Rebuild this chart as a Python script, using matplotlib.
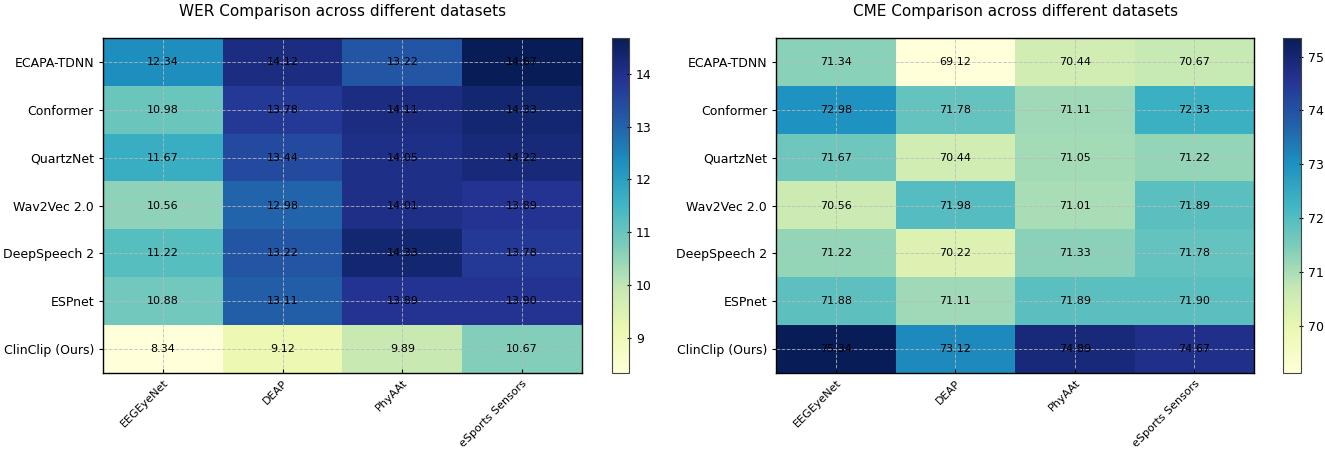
import numpy as np
import matplotlib.pyplot as plt

models = ['ECAPA-TDNN', 'Conformer', 'QuartzNet', 'Wav2Vec 2.0',
          'DeepSpeech 2', 'ESPnet', 'ClinClip (Ours)']
datasets = ['EEGEyeNet', 'DEAP', 'PhyAAt', 'eSports Sensors']

wer = [
    [12.34, 14.12, 13.22, 14.67],
    [10.98, 13.78, 14.11, 14.33],
    [11.67, 13.44, 14.05, 14.22],
    [10.56, 12.98, 14.01, 13.89],
    [11.22, 13.22, 14.33, 13.78],
    [10.88, 13.11, 13.89, 13.90],
    [8.34, 9.12, 9.89, 10.67],
]

cme = [
    [71.34, 69.12, 70.44, 70.67],
    [72.98, 71.78, 71.11, 72.33],
    [71.67, 70.44, 71.05, 71.22],
    [70.56, 71.98, 71.01, 71.89],
    [71.22, 70.22, 71.33, 71.78],
    [71.88, 71.11, 71.89, 71.90],
    [75.34, 73.12, 74.89, 74.67],
]

fig = plt.figure(figsize=(13.25, 4.5), dpi=100)

panels = [
    (wer, 'WER Comparison across different datasets',
     [0.0777, 0.171, 0.3615, 0.744], [0.462, 0.171, 0.0128, 0.744]),
    (cme, 'CME Comparison across different datasets',
     [0.5857, 0.171, 0.3608, 0.744], [0.9683, 0.171, 0.0136, 0.744]),
]

for data, title, pos, cpos in panels:
    arr = np.array(data)
    ax = fig.add_axes(pos)
    im = ax.imshow(arr, cmap='YlGnBu', aspect='auto')
    ax.set_xticks(range(len(datasets)))
    ax.set_xticklabels(datasets, rotation=45, ha='right', rotation_mode='anchor',
                       fontsize=8)
    ax.set_yticks(range(len(models)))
    ax.set_yticklabels(models, fontsize=9)
    ax.tick_params(axis='x', direction='in', length=3)
    ax.tick_params(axis='y', length=3)
    ax.set_title(title, fontsize=11, pad=16)
    ax.grid(True, linestyle='--', color='#bbbbbb', linewidth=0.7, alpha=0.8)
    for s in ax.spines.values():
        s.set_linewidth(1.0)
    for i in range(arr.shape[0]):
        for j in range(arr.shape[1]):
            ax.text(j, i, f'{arr[i, j]:.2f}', ha='center', va='center',
                    fontsize=8, color='black')
    cax = fig.add_axes(cpos)
    cb = fig.colorbar(im, cax=cax)
    cb.ax.tick_params(labelsize=9, length=3, direction='inout')
    cb.outline.set_edgecolor('#444444')

fig.savefig('out.png', dpi=100)
